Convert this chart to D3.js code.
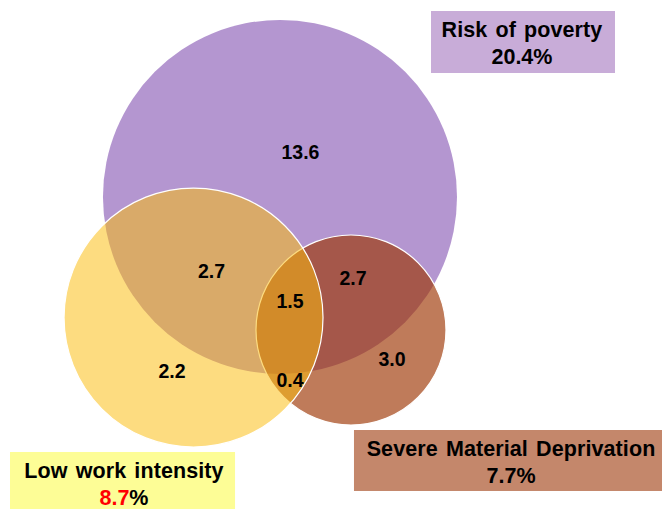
<!DOCTYPE html>
<html>
<head>
<meta charset="utf-8">
<script src="https://cdn.jsdelivr.net/npm/d3@7"></script>
<style>
  body { margin: 0; background: #fff; }
  svg { display: block; font-family: "Liberation Sans", Arial, sans-serif; }
</style>
</head>
<body>
<div class="canva"></div>
<script>
// sets and their totals (%)
var setNames = ["Risk of poverty", "Low work intensity", "Severe Material Deprivation"];
var setTotals = [20.4, 8.7, 7.7];

// region values (%)
var regionNames = ["P only", "P & L", "P & S", "P & L & S", "L only", "L & S", "S only"];
var regionValues = [13.6, 2.7, 2.7, 1.5, 2.2, 0.4, 3.0];

const width = 663, height = 509;

// layout in a 0..100 unit space (venn is not area proportional)
var circleLayout = [
  {cx: 42.23, cy: 38.70, r: 26.70},
  {cx: 29.19, cy: 62.38, r: 19.53},
  {cx: 52.94, cy: 64.83, r: 14.33}
];
var regionLayout = [
  {x: 45.32, y: 31.24},
  {x: 31.90, y: 54.62},
  {x: 53.24, y: 55.99},
  {x: 43.74, y: 60.51},
  {x: 25.94, y: 74.26},
  {x: 43.74, y: 76.03},
  {x: 59.13, y: 71.91}
];
// legend boxes: x, y, w, h in same units, tx = text centre
var boxLayout = [
  {x: 65.01, y: 2.16, w: 27.75, h: 12.18, tx: 78.73},
  {x: 1.51, y: 88.80, w: 33.94, h: 11.20, tx: 18.70},
  {x: 53.39, y: 84.48, w: 46.46, h: 11.98, tx: 77.08}
];

var fills = ["#b496d0", "rgb(251,188,11)", "rgb(158,54,5)"];
var opac = [1, 0.52, 0.66];
var boxFills = ["#c8acd8", "#fdfd96", "#c4876b"];

var x = d3.scaleLinear().domain([0, 100]).range([0, width]);
var y = d3.scaleLinear().domain([0, 100]).range([0, height]);

const svg = d3.select(".canva").append("svg")
    .attr("width", width)
    .attr("height", height);

// draw order: poverty, deprivation, low work
var order = [0, 2, 1];
svg.selectAll("circle.set")
    .data(order)
    .enter()
    .append("circle")
    .attr("class", "set")
    .attr("cx", d => x(circleLayout[d].cx))
    .attr("cy", d => y(circleLayout[d].cy))
    .attr("r", d => x(circleLayout[d].r) - x(0))
    .attr("fill", d => fills[d])
    .attr("fill-opacity", d => opac[d])
    .attr("stroke", d => d == 0 ? "none" : "#fff")
    .attr("stroke-width", 1.2);

// region numbers
svg.selectAll("text.region")
    .data(regionValues)
    .enter()
    .append("text")
    .attr("class", "region")
    .attr("x", (d, i) => x(regionLayout[i].x))
    .attr("y", (d, i) => y(regionLayout[i].y))
    .attr("text-anchor", "middle")
    .style("font-size", "19.5px")
    .style("font-weight", "bold")
    .text(d => d3.format(".1f")(d));

// legend boxes
var boxes = svg.selectAll("g.box")
    .data(setNames)
    .enter()
    .append("g")
    .attr("class", "box");

boxes.append("rect")
    .attr("x", (d, i) => x(boxLayout[i].x))
    .attr("y", (d, i) => y(boxLayout[i].y))
    .attr("width", (d, i) => x(boxLayout[i].w) - x(0))
    .attr("height", (d, i) => y(boxLayout[i].h) - y(0))
    .attr("fill", (d, i) => boxFills[i]);

boxes.append("text")
    .attr("x", (d, i) => x(boxLayout[i].tx))
    .attr("y", (d, i) => y(boxLayout[i].y) + 26)
    .attr("text-anchor", "middle")
    .style("font-size", "21.5px")
    .style("font-weight", "bold")
    .style("word-spacing", "2px")
    .style("letter-spacing", "0.1px")
    .text(d => d);

var pct = boxes.append("text")
    .attr("x", (d, i) => x(boxLayout[i].tx))
    .attr("y", (d, i) => y(boxLayout[i].y) + 53)
    .attr("text-anchor", "middle")
    .style("font-size", "21.5px")
    .style("font-weight", "bold");

pct.append("tspan")
    .attr("fill", (d, i) => i == 1 ? "#ff0000" : "#000")
    .text((d, i) => d3.format(".1f")(setTotals[i]));
pct.append("tspan")
    .text("%");
</script>
</body>
</html>
